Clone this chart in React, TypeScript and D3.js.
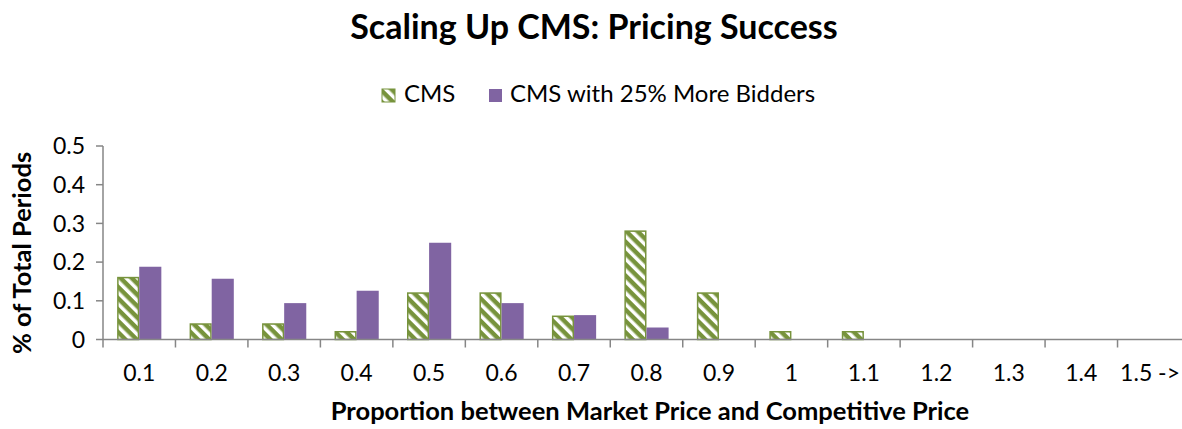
import React, { useEffect } from "react";
import * as d3 from "d3";

// categories on the x axis
const categories = ["0.1", "0.2", "0.3", "0.4", "0.5", "0.6", "0.7", "0.8", "0.9", "1", "1.1", "1.2", "1.3", "1.4", "1.5 ->"];
const seriesNames = ["CMS", "CMS with 25% More Bidders"];
const cmsValues = [0.16, 0.04, 0.04, 0.02, 0.12, 0.12, 0.06, 0.28, 0.12, 0.02, 0.02, 0, 0, 0, 0];
const moreBiddersValues = [0.188, 0.157, 0.094, 0.126, 0.25, 0.094, 0.063, 0.031, 0, 0, 0, 0, 0, 0, 0];
const yTicks = [0, 0.1, 0.2, 0.3, 0.4, 0.5];

const width = 1182;
const height = 429;
const left = 103;
const right = 1190;
const top = 146;
const bottom = 339.5;
const green = "#77933C";
const purple = "#8064A2";
const axisGray = "#868686";
const font = "Lato, 'Open Sans', sans-serif";

export default function App() {
  useEffect(() => {
    document.body.style.margin = "0";
  }, []);

  const x = d3.scaleBand().domain(categories).range([left, right]).paddingInner(0.39).paddingOuter(0.195);
  const inner = d3.scaleBand().domain(seriesNames).range([0, x.bandwidth()]);
  const y = d3.scaleLinear().domain([0, 0.5]).range([bottom, top]);
  const step = x.step();
  const edge = (step - x.bandwidth()) / 2;
  // tick marks sit between the categories
  const boundaries = d3.range(categories.length + 1).map((i) => left + x.paddingOuter() * step - edge + i * step);

  const rows = categories.map((c, i) => ({ c, cms: cmsValues[i], more: moreBiddersValues[i] }));
  const lastCat = categories[categories.length - 1];

  return (
    <svg width={width} height={height} style={{ display: "block", background: "#fff" }} fontFamily={font}>
      <defs>
        <pattern id="hatch" patternUnits="userSpaceOnUse" width={8} height={8} patternTransform="rotate(45)">
          <rect width={8} height={8} fill="#fff" />
          <rect x={0} y={0} width={8} height={4.5} fill={green} />
        </pattern>
      </defs>

      <text x={594} y={39} textAnchor="middle" fontSize={34} fontWeight="bold" fill="#000">
        Scaling Up CMS: Pricing Success
      </text>

      {/* legend */}
      <g>
        <rect x={382} y={89} width={13} height={13} fill="url(#hatch)" stroke={green} strokeWidth={1} />
        <text x={404} y={102} fontSize={24} fill="#000">{seriesNames[0]}</text>
        <rect x={489} y={89} width={13} height={13} fill={purple} />
        <text x={510} y={102} fontSize={24} fill="#000">{seriesNames[1]}</text>
      </g>

      {/* y axis */}
      <line x1={left} x2={left} y1={top} y2={bottom} stroke={axisGray} strokeWidth={1.5} />
      {yTicks.map((t) => (
        <g key={t}>
          <line x1={left - 7} x2={left} y1={y(t)} y2={y(t)} stroke={axisGray} strokeWidth={1.5} />
          <text x={85} y={y(t)} dy="0.36em" textAnchor="end" fontSize={23} fill="#000">
            {d3.format("")(t)}
          </text>
        </g>
      ))}
      <text transform={`translate(22,253) rotate(-90)`} dy="0.36em" textAnchor="middle" fontSize={25.5} fontWeight="bold" fill="#000">
        % of Total Periods
      </text>

      {/* bars */}
      {rows.map((r) => (
        <g key={r.c} transform={`translate(${x(r.c)},0)`}>
          {r.cms > 0 && (
            <rect x={inner(seriesNames[0])! + 0.75} y={y(r.cms)} width={inner.bandwidth() - 1.5} height={bottom - y(r.cms)} fill="url(#hatch)" stroke={green} strokeWidth={1.5} />
          )}
          {r.more > 0 && (
            <rect x={inner(seriesNames[1])!} y={y(r.more)} width={inner.bandwidth()} height={bottom - y(r.more)} fill={purple} />
          )}
        </g>
      ))}

      {/* x axis */}
      <line x1={left} x2={right} y1={bottom} y2={bottom} stroke={axisGray} strokeWidth={1.5} />
      {boundaries.map((b, i) => (
        <line key={i} x1={b} x2={b} y1={bottom} y2={bottom + 8} stroke={axisGray} strokeWidth={1.5} />
      ))}
      {categories.map((c) =>
        c === lastCat ? (
          <text key={c} x={width - 2} y={381} textAnchor="end" fontSize={23} fill="#000">
            {c}
          </text>
        ) : (
          <text key={c} x={x(c)! + x.bandwidth() / 2} y={381} textAnchor="middle" fontSize={23} fill="#000">
            {c}
          </text>
        )
      )}
      <text x={650} y={420} textAnchor="middle" fontSize={25.5} fontWeight="bold" fill="#000">
        Proportion between Market Price and Competitive Price
      </text>
    </svg>
  );
}
